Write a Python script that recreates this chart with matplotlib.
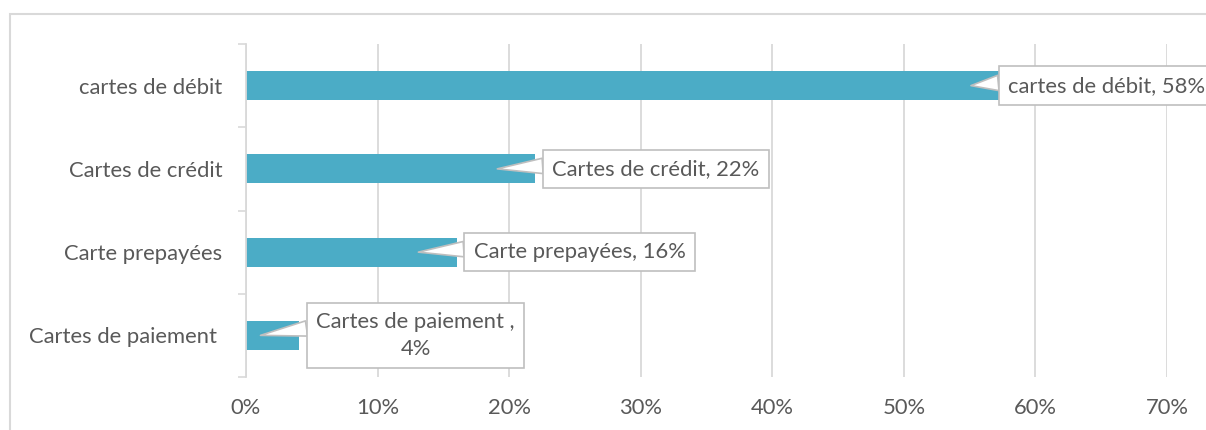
import matplotlib
matplotlib.use("Agg")
import matplotlib.pyplot as plt
import matplotlib.transforms as mtransforms
from matplotlib.patches import Rectangle

# card types, top to bottom
categories = ["cartes de débit", "Cartes de crédit", "Carte prepayées", "Cartes de paiement "]
shares = [58, 22, 16, 4]
callouts = ["cartes de débit, 58%", "Cartes de crédit, 22%", "Carte prepayées, 16%", "Cartes de paiement ,\n4%"]
xticks = [0, 10, 20, 30, 40, 50, 60, 70]

bar_color = "#4BACC6"
txt_color = "#595959"
grid_color = "#D9D9D9"
fs = 15.8

plt.rcParams['font.family'] = ['Lato', 'DejaVu Sans']

fig = plt.figure(figsize=(12.06, 4.30), dpi=100)
ax = fig.add_axes([246 / 1206, 1 - 377 / 430, (1167 - 246) / 1206, (377 - 44) / 430])

# outer chart frame
fig.patches.append(Rectangle((10 / 1206, -0.1), 1.2, 1 - 14 / 430 + 0.1, transform=fig.transFigure,
                             fill=False, edgecolor=grid_color, linewidth=1.5))

ypos = list(range(len(categories)))[::-1]
ax.barh(ypos, shares, height=0.35, color=bar_color, zorder=2)

ax.set_xlim(0, 70)
ax.set_ylim(-0.5, len(categories) - 0.5)
ax.set_xticks(xticks)
ax.set_xticklabels([f"{t}%" for t in xticks])
ax.set_yticks(ypos)
ax.set_yticklabels(categories)
ax.set_yticks([y - 0.5 for y in range(len(categories) + 1)], minor=True)

ax.tick_params(axis='x', length=0, pad=15, labelsize=fs, labelcolor=txt_color)
ax.tick_params(axis='y', which='major', length=0, pad=17, labelsize=fs, labelcolor=txt_color)
ax.tick_params(axis='y', which='minor', length=6, width=1.2, color=grid_color)

ax.grid(axis='x', color=grid_color, linewidth=1.3, zorder=0)
for s in ['top', 'right', 'bottom']:
    ax.spines[s].set_visible(False)
ax.spines['left'].set_color(grid_color)
ax.spines['left'].set_linewidth(1.3)

# data callouts next to the bar ends
for y, v, lab in zip(ypos, shares, callouts):
    tip = max(v - 2.9, v * 0.27)
    if v > 50:
        shift, ha = -1, 'left'
    elif '\n' in lab:
        shift, ha = 117, 'center'
    else:
        shift, ha = 17, 'left'
    tr = mtransforms.offset_copy(ax.transData, fig=fig, x=shift, y=0, units='dots')
    ax.annotate(lab, xy=(tip, y), xycoords='data', xytext=(v, y), textcoords=tr,
                ha=ha, va='center', fontsize=fs, color=txt_color, multialignment='center',
                linespacing=1.4, annotation_clip=False, zorder=5,
                bbox=dict(boxstyle='square,pad=0.42', fc='white', ec='#BFBFBF', lw=1.2),
                arrowprops=dict(arrowstyle='wedge,tail_width=0.7,shrink_factor=0.5', fc='white',
                                ec='#BFBFBF', lw=1.2, relpos=(0.0, 0.68), shrinkA=0, shrinkB=0))

fig.savefig("out.png", dpi=100)
